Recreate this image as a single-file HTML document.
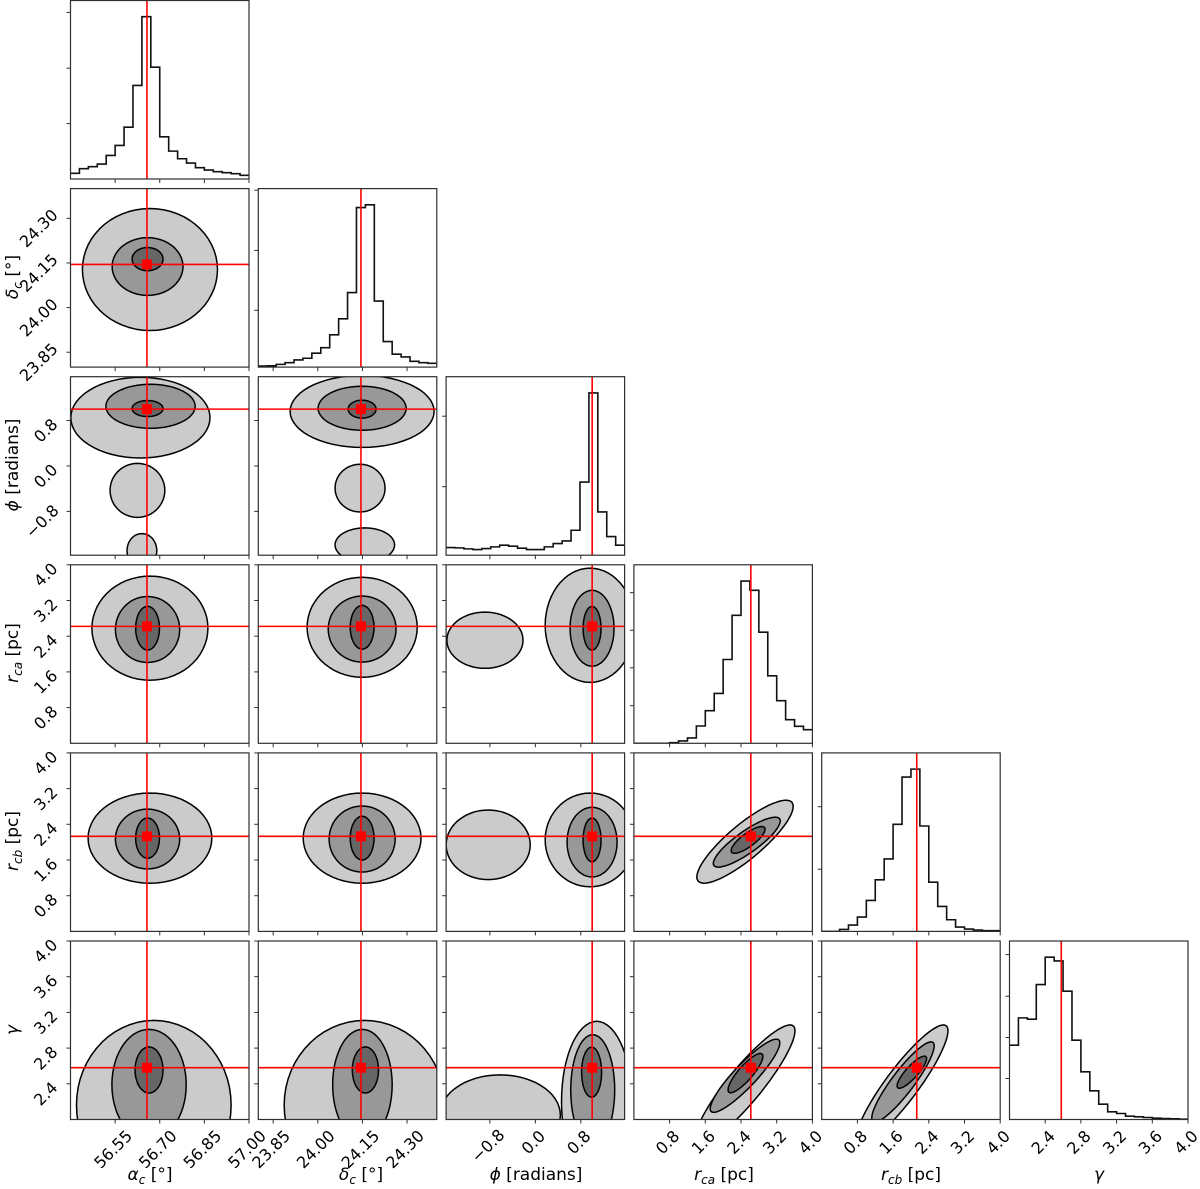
<!DOCTYPE html>
<html><head><meta charset="utf-8"><style>
html,body{margin:0;padding:0;background:#fff;}
svg{display:block;font-family:"DejaVu Sans","Liberation Sans",sans-serif;}
</style></head><body>
<svg id="chart" width="1200" height="1189" viewBox="0 0 1200 1189" xmlns="http://www.w3.org/2000/svg">
<defs id="defs"></defs>
<g id="plot"></g>
<g font-size="17" text-anchor="middle" fill="#000">
<text x="150" y="1180"><tspan font-style="italic">α</tspan><tspan font-style="italic" font-size="12" dy="4">c</tspan><tspan dy="-4">  [°]</tspan></text>
<text x="361" y="1180"><tspan font-style="italic">δ</tspan><tspan font-style="italic" font-size="12" dy="4">c</tspan><tspan dy="-4">  [°]</tspan></text>
<text x="536" y="1180"><tspan font-style="italic">ϕ</tspan> [radians]</text>
<text x="724" y="1180"><tspan font-style="italic">r</tspan><tspan font-style="italic" font-size="12" dy="4">ca</tspan><tspan dy="-4"> [pc]</tspan></text>
<text x="911" y="1180"><tspan font-style="italic">r</tspan><tspan font-style="italic" font-size="12" dy="4">cb</tspan><tspan dy="-4"> [pc]</tspan></text>
<text x="1099" y="1180"><tspan font-style="italic">γ</tspan></text>
</g>
<g font-size="17" text-anchor="middle" fill="#000">
<text transform="translate(18,277) rotate(-90)"><tspan font-style="italic">δ</tspan><tspan font-style="italic" font-size="12" dy="4">c</tspan><tspan dy="-4">  [°]</tspan></text>
<text transform="translate(18,465) rotate(-90)"><tspan font-style="italic">ϕ</tspan> [radians]</text>
<text transform="translate(18,653) rotate(-90)"><tspan font-style="italic">r</tspan><tspan font-style="italic" font-size="12" dy="4">ca</tspan><tspan dy="-4"> [pc]</tspan></text>
<text transform="translate(18,841) rotate(-90)"><tspan font-style="italic">r</tspan><tspan font-style="italic" font-size="12" dy="4">cb</tspan><tspan dy="-4"> [pc]</tspan></text>
<text transform="translate(18,1030) rotate(-90)"><tspan font-style="italic">γ</tspan></text>
</g>
</svg>
<script>
// ---- data ----
const ranges = [[56.4,57.0],[23.8,24.4],[-1.5708,1.5708],[0,4],[0,4],[2,4]];
const truths = [56.657,24.145,1.0,2.62,2.13,2.58];
const ticks = [[56.55,56.70,56.85,57.00],[23.85,24.00,24.15,24.30],[-0.8,0.0,0.8],[0.8,1.6,2.4,3.2,4.0],[0.8,1.6,2.4,3.2,4.0],[2.4,2.8,3.2,3.6,4.0]];
const tickLabels = [["56.55","56.70","56.85","57.00"],["23.85","24.00","24.15","24.30"],["−0.8","0.0","0.8"],["0.8","1.6","2.4","3.2","4.0"],["0.8","1.6","2.4","3.2","4.0"],["2.4","2.8","3.2","3.6","4.0"]];
const hist0 = [17,31,37,45,71,101,156,282,489,337,127,84,61,48,34,27,22,19,16,11];
const hist1 = [3,4,8,13,21,26,41,57,95,142,219,469,477,194,75,38,30,17,13,11];
const hist2 = [23,22,19,17,20,25,30,27,21,17,17,25,35,43,75,220,488,130,56,30];
const hist3 = [0,0,0,0,2,7,16,52,98,150,252,385,488,460,334,203,128,71,51,41];
const hist4 = [0,0,6,19,43,93,155,218,322,464,488,317,148,75,35,13,7,4,2,2];
const hist5 = [223,305,301,405,487,476,385,238,143,86,46,23,18,10,8,6,4,3,2,1];
const histTicks0 = [167,334,502];
const histTicks1 = [167,343,520];
const histTicks2 = [206,418];
const histTicks3 = [113,227,340,453];
const histTicks4 = [187,375];
const histTicks5 = [123,246,370,495];
// contour shapes: [cx, cy, halfWidthX, halfHeightY, rho, level]
const cont10 = [[56.667,24.128,0.227,0.205,0,0],[56.659,24.138,0.119,0.097,0,1],[56.659,24.163,0.052,0.039,0,2]];
const cont20 = [[56.635,0.85,0.234,0.71,0,0],[56.625,-0.43,0.092,0.475,0,0],[56.64,-1.49,0.05,0.3,0,0],[56.669,1.05,0.150,0.387,0,1],[56.659,1.01,0.052,0.141,0,2]];
const cont21 = [[24.149,0.96,0.242,0.634,0,0],[24.142,-0.39,0.084,0.42,0,0],[24.158,-1.39,0.1,0.3,0,0],[24.149,1.015,0.148,0.387,0,1],[24.149,1.0,0.047,0.158,0,2]];
const cont30 = [[56.667,2.58,0.195,1.166,0,0],[56.659,2.55,0.108,0.74,0,1],[56.659,2.58,0.04,0.49,0,2]];
const cont31 = [[24.149,2.6,0.185,1.12,0,0],[24.149,2.56,0.114,0.74,0,1],[24.149,2.6,0.04,0.49,0,2]];
const cont32 = [[0.963,2.645,0.79,1.28,0,0],[-0.887,2.31,0.67,0.63,0,0],[0.998,2.578,0.387,0.85,0,1],[0.998,2.578,0.158,0.49,0,2]];
const cont40 = [[56.667,2.09,0.208,1.01,0,0],[56.659,2.07,0.108,0.67,0,1],[56.659,2.09,0.04,0.45,0,2]];
const cont41 = [[24.149,2.09,0.198,1.01,0,0],[24.149,2.07,0.111,0.74,0,1],[24.149,2.09,0.04,0.49,0,2]];
const cont42 = [[0.963,2.05,0.79,1.05,0,0],[-0.83,1.94,0.74,0.78,0,0],[0.998,2.0,0.44,0.78,0,1],[0.998,2.05,0.158,0.49,0,2]];
const cont43 = [[2.49,2.01,1.08,0.93,0.85,0],[2.53,2.0,0.75,0.56,0.85,1],[2.56,2.05,0.38,0.30,0.8,2]];
const cont50 = [[56.68,2.16,0.26,0.95,0,0],[56.664,2.39,0.125,0.62,0,1],[56.664,2.555,0.047,0.258,0,2]];
const cont51 = [[24.157,2.16,0.27,0.95,0,0],[24.15,2.39,0.1,0.62,0,1],[24.16,2.555,0.044,0.258,0,2]];
const cont52 = [[1.08,2.2,0.62,0.9,0,0],[-0.62,2.05,1.06,0.45,0,0],[1.01,2.33,0.387,0.62,0,1],[0.99,2.53,0.176,0.28,0,2]];
const cont53 = [[2.49,2.39,1.12,0.67,0.9,0],[2.49,2.49,0.78,0.41,0.9,1],[2.5,2.52,0.39,0.22,0.85,2]];
const cont54 = [[1.8,2.39,1.03,0.67,0.9,0],[1.82,2.42,0.7,0.45,0.9,1],[2.02,2.53,0.33,0.18,0.85,2]];

const hists = [hist0,hist1,hist2,hist3,hist4,hist5];
const histTicks = [histTicks0,histTicks1,histTicks2,histTicks3,histTicks4,histTicks5];
const contours = {"1,0":cont10,"2,0":cont20,"2,1":cont21,"3,0":cont30,"3,1":cont31,"3,2":cont32,"4,0":cont40,"4,1":cont41,"4,2":cont42,"4,3":cont43,"5,0":cont50,"5,1":cont51,"5,2":cont52,"5,3":cont53,"5,4":cont54};
const varKeys = ["alpha","delta","phi","rca","rcb","gamma"];

// ---- geometry ----
const PW = 178.5;
const panelLeft = c => 70.5 + c*187.8;
const panelTop = r => 0.5 + r*188.1;
function px(c,v){const [lo,hi]=ranges[c];return panelLeft(c)+(v-lo)/(hi-lo)*PW;}
function py(r,v){const [lo,hi]=ranges[r];return panelTop(r)+PW-(v-lo)/(hi-lo)*PW;}
const NS="http://www.w3.org/2000/svg";
function mk(tag,attrs,parent){const e=document.createElementNS(NS,tag);for(const k in attrs)e.setAttribute(k,attrs[k]);parent.appendChild(e);return e;}
const plotG=document.getElementById('plot');
const defsEl=document.getElementById('defs');
const fills=['#cbcbcb','#989898','#666666'];
const AX='#2f2f2f';

function tickLabelX(parent,x,yb,label){
  const fs=16, L=label.length*0.62*fs, h=0.75*fs;
  const d=(L+h)*0.7071;
  const t=mk('text',{x:0,y:0,'font-size':fs,'text-anchor':'middle','dominant-baseline':'central',transform:`translate(${x-2},${yb+8+d/2}) rotate(-45)`},parent);
  
  
  t.textContent=label;
}
function tickLabelY(parent,xl,y,label){
  const fs=16, L=label.length*0.62*fs, h=0.75*fs;
  const d=(L+h)*0.7071;
  const t=mk('text',{x:0,y:0,'font-size':fs,'text-anchor':'middle','dominant-baseline':'central',transform:`translate(${xl-10-d/2},${y+10}) rotate(-45)`},parent);
  
  
  t.textContent=label;
}

for(let r=0;r<6;r++){
  for(let c=0;c<=r;c++){
    const L=panelLeft(c),T=panelTop(r),B=T+PW,R=L+PW;
    const g=mk('g',{},plotG);
    
    
    const cp=mk('clipPath',{id:`cp${r}${c}`},defsEl);
    mk('rect',{x:L,y:T,width:PW,height:PW},cp);
    const inner=mk('g',{'clip-path':`url(#cp${r}${c})`},g);
    if(r===c){
      const h=hists[c], mx=Math.max(...h)*1.1, n=h.length;
      const [lo,hi]=ranges[c], bw=(hi-lo)/n;
      const yv=v=>B-v/mx*PW;
      let d='';
      for(let i=0;i<n;i++){
        const x0=px(c,lo+i*bw), x1=px(c,lo+(i+1)*bw);
        d+=(i===0?`M${x0},${yv(h[i])}`:`L${x0},${yv(h[i])}`)+`L${x1},${yv(h[i])}`;
      }
      const p=mk('path',{d:d,fill:'none',stroke:'#111','stroke-width':1.6},inner);
      
      
      for(const tv of histTicks[c]){
        const tk=mk('line',{x1:L-4,x2:L,y1:yv(tv),y2:yv(tv),stroke:AX,'stroke-width':1},g);
        
        
      }
    } else {
      const shapes=contours[`${r},${c}`]||[];
      for(let lev=0;lev<3;lev++){
        for(const s of shapes){
          if(s[5]!==lev) continue;
          const [cx,cy,hw,hh,rho]=s; const q=Math.sqrt(1-rho*rho);
          let d='';
          for(let k=0;k<=60;k++){
            const t=k/60*2*Math.PI;
            const xv=cx+hw*Math.cos(t), yv2=cy+hh*(rho*Math.cos(t)+q*Math.sin(t));
            d+=(k===0?'M':'L')+px(c,xv).toFixed(1)+','+py(r,yv2).toFixed(1);
          }
          const p=mk('path',{d:d+'Z',fill:fills[lev],stroke:'#000','stroke-width':1.5,'stroke-linejoin':'round'},inner);
          
          
        }
      }
      const hl=mk('line',{x1:L,x2:R,y1:py(r,truths[r]),y2:py(r,truths[r]),stroke:'#ff0000','stroke-width':1.6},inner);
      
      
      for(let k=0;k<ticks[r].length;k++){
        const yy=py(r,ticks[r][k]);
        const tk=mk('line',{x1:L-4,x2:L,y1:yy,y2:yy,stroke:AX,'stroke-width':1},g);
        
        
        if(c===0) tickLabelY(g,L,yy,tickLabels[r][k]);
      }
    }
    const vl=mk('line',{x1:px(c,truths[c]),x2:px(c,truths[c]),y1:T,y2:B,stroke:'#ff0000','stroke-width':1.6},inner);
    
    
    if(r!==c){
      const m=mk('rect',{x:px(c,truths[c])-5,y:py(r,truths[r])-5,width:10,height:10,fill:'#ff0000'},inner);
      
      
    }
    for(let k=0;k<ticks[c].length;k++){
      const xx=px(c,ticks[c][k]);
      const tk=mk('line',{x1:xx,x2:xx,y1:B,y2:B+4,stroke:AX,'stroke-width':1},g);
      
      
      if(r===5) tickLabelX(g,xx,B,tickLabels[c][k]);
    }
    const fr=mk('rect',{x:L,y:T,width:PW,height:PW,fill:'none',stroke:AX,'stroke-width':1.2},g);
    
    
  }
}
</script>
</body></html>
